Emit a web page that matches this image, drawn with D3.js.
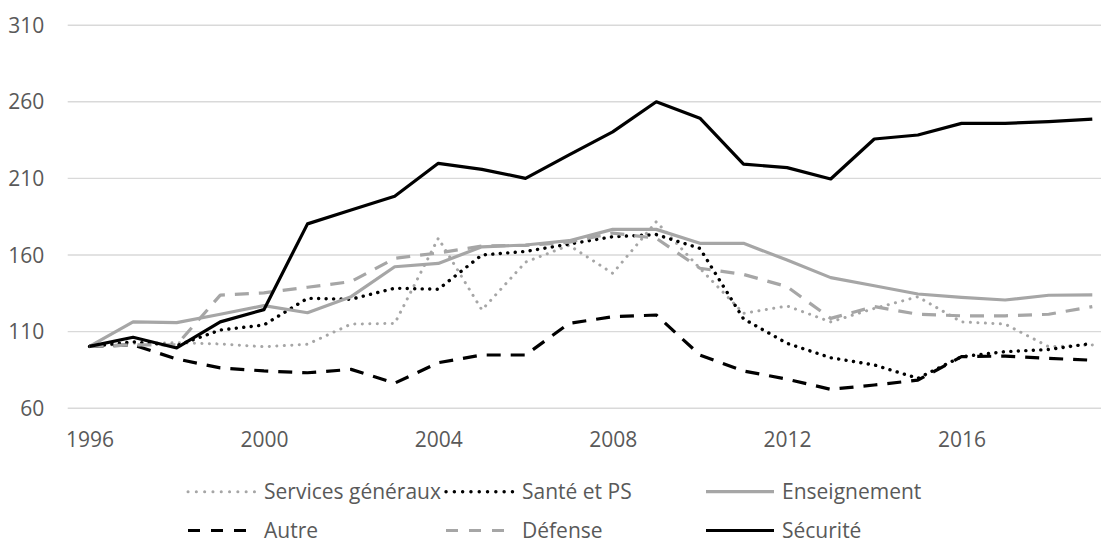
<!DOCTYPE html>
<html>
<head>
<meta charset="utf-8">
<script src="https://cdn.jsdelivr.net/npm/d3@7"></script>
<style>
  body { margin: 0; background: #fff; }
  text { font-family: "Open Sans", sans-serif; fill: #595959; }
</style>
</head>
<body>
<script>
const WIDTH = 1101;
const HEIGHT = 545;

// data (index, 1996 = 100)
const years = [1996, 1997, 1998, 1999, 2000, 2001, 2002, 2003, 2004, 2005, 2006, 2007,
               2008, 2009, 2010, 2011, 2012, 2013, 2014, 2015, 2016, 2017, 2018, 2019];
const servicesGeneraux = [100, 102, 102.4, 101.6, 99.8, 101.4, 114.6, 115, 170.6, 123.8, 155, 166,
                          147.7, 181.4, 151, 121.6, 126.4, 116, 124.8, 132.4, 116, 114.6, 99.8, 101];
const santePS = [100, 103, 100.5, 110.7, 114, 131.4, 130.8, 138, 137.3, 159.7, 162, 166.8,
                 171.6, 173, 164, 118, 102, 92.6, 87.9, 79.2, 93.3, 96.6, 98, 102];
const enseignement = [100, 116, 115.5, 121, 126.6, 122, 132.5, 152, 154.2, 165, 166.2, 169,
                      176.4, 176.4, 167.3, 167.3, 156.4, 144.9, 139.6, 134.2, 132, 130.3, 133.4, 133.6];
const autre = [100, 101, 91.8, 86, 84, 82.8, 85, 76, 89.4, 94.4, 94.4, 115,
               119.4, 120.5, 94.4, 84, 78.6, 72, 74.8, 78, 93.3, 93.7, 92.2, 91];
const defense = [100, 101, 101, 133.5, 135, 138.6, 142.3, 157.5, 161, 165.5, 166, 168,
                 174, 170.6, 151, 147, 139, 118.3, 126, 121, 120, 120, 121, 126];
const securite = [100, 106, 99, 116, 124, 180, 189, 198, 219.5, 215.6, 209.7, 225,
                  240, 259.7, 249, 219, 216.7, 209.3, 235.4, 238, 245.6, 245.6, 246.7, 248.4];

const seriesNames = ["Services généraux", "Santé et PS", "Enseignement", "Autre", "Défense", "Sécurité"];
const seriesValues = [servicesGeneraux, santePS, enseignement, autre, defense, securite];

const yTicks = [60, 110, 160, 210, 260, 310];
const xTicks = [1996, 2000, 2004, 2008, 2012, 2016];

// line styles per series
const styles = [
  {color: "#a6a6a6", width: 3, dash: "0.1,7.4", cap: "round"},
  {color: "#000000", width: 3.4, dash: "0.1,7.4", cap: "round"},
  {color: "#a6a6a6", width: 3.2, dash: null, cap: "butt"},
  {color: "#000000", width: 3.2, dash: "14,10", cap: "butt"},
  {color: "#a6a6a6", width: 3.2, dash: "14,10", cap: "butt"},
  {color: "#000000", width: 3.2, dash: null, cap: "butt"}
];

const svg = d3.select("body").append("svg")
  .attr("width", WIDTH)
  .attr("height", HEIGHT);

const PLOT_LEFT = 67.7;
const x = d3.scalePoint()
  .domain(years)
  .range([PLOT_LEFT, PLOT_LEFT + 24 * 43.6])
  .padding(0.5);

const y = d3.scaleLinear()
  .domain([60, 310])
  .range([407.7, 24.7]);

// y axis + gridlines
const yAxis = svg.append("g")
  .attr("transform", "translate(" + PLOT_LEFT + ",0)")
  .call(d3.axisLeft(y).tickValues(yTicks).tickSize(-(WIDTH - PLOT_LEFT)).tickPadding(23.5));
yAxis.select(".domain").remove();
yAxis.selectAll("line").attr("stroke", "#d9d9d9").attr("stroke-width", 1.4);
yAxis.selectAll("text")
  .attr("font-size", 21)
  .attr("font-family", "Open Sans")
  .attr("fill", "#595959")
  .attr("dy", "0.36em");

// x axis labels
const xAxis = svg.append("g")
  .attr("transform", "translate(0," + y(60) + ")")
  .call(d3.axisBottom(x).tickValues(xTicks).tickSize(0));
xAxis.select(".domain").remove();
xAxis.selectAll("text")
  .attr("font-size", 21)
  .attr("font-family", "Open Sans")
  .attr("fill", "#595959")
  .attr("y", 39)
  .attr("dy", 0);

// lines
const line = d3.line()
  .x((d, i) => x(years[i]))
  .y(d => y(d));

seriesValues.forEach((vals, k) => {
  const s = styles[k];
  svg.append("path")
    .datum(vals)
    .attr("fill", "none")
    .attr("stroke", s.color)
    .attr("stroke-width", s.width)
    .attr("stroke-dasharray", s.dash)
    .attr("stroke-linecap", s.cap)
    .attr("stroke-linejoin", "round")
    .attr("d", line);
});

// legend
const legendCols = [188, 446, 706];
const legendRows = [491.7, 530.5];
const legend = svg.append("g");
seriesNames.forEach((name, k) => {
  const s = styles[k];
  const cx = legendCols[k % 3];
  const cy = legendRows[Math.floor(k / 3)];
  legend.append("line")
    .attr("x1", cx).attr("x2", cx + 68)
    .attr("y1", cy).attr("y2", cy)
    .attr("stroke", s.color)
    .attr("stroke-width", s.width)
    .attr("stroke-dasharray", s.dash ? (s.cap === "round" ? "0.1,8.2" : "12,11") : null)
    .attr("stroke-linecap", s.cap);
  legend.append("text")
    .attr("x", cx + 76)
    .attr("y", cy + 7.2)
    .attr("font-size", 21)
    .text(name);
});
</script>
</body>
</html>
